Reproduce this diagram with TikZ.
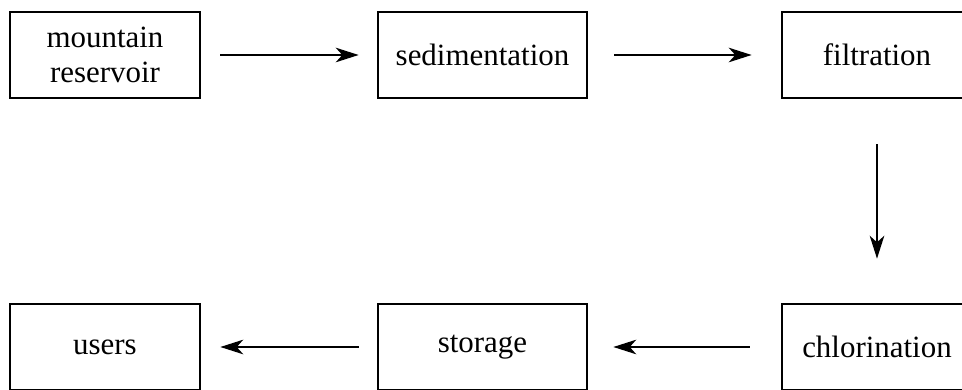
\documentclass[tikz,border=0pt]{standalone}
\usepackage{fontspec}
\setmainfont{Liberation Serif}
\usepackage{tikz}
\usetikzlibrary{
    calc,
    positioning,
    arrows.meta
}

\begin{document}
\begin{tikzpicture}[x=0.025cm, y=0.025cm]
                  % Fix the frame of the picture (boxes on the right and bottom run off it)
                  \useasboundingbox (0,0) rectangle (962,389);
                  \clip (0,0) rectangle (962,389);

                  % Define box and arrow styles:
                  \tikzset{
                        stage/.style={draw, rectangle, line width=1.8pt, inner sep=0pt,
                              minimum width=4.75cm, minimum height=2.15cm, align=center,
                              font=\fontsize{22}{25}\selectfont},
                        flow/.style={-{Stealth[length=0.57cm, width=0.36cm, inset=0.16cm]}, line width=2pt}
                  };

                  % Top row of treatment stages
                  \node[stage] (reservoir) at (105,334) {mountain\\reservoir};
                  \node[stage, minimum width=5.225cm] (sediment) at (482.5,334) {sedimentation};
                  \node[stage] (filter) at (877,334) {filtration};

                  % Bottom row, running back to the left
                  \node[stage] (users) at (105,42) {users};
                  \node[stage, minimum width=5.225cm] (storage) at (482.5,42) {storage};
                  \node[stage] (chlorine) at (877,42) {chlorination};

                  % Connectors between the stages
                  \draw[flow, shorten <=0.475cm, shorten >=0.45cm] (reservoir.east) -- (sediment.west);
                  \draw[flow, shorten <=0.65cm, shorten >=0.725cm] (sediment.east) -- (filter.west);
                  \draw[flow, shorten <=1.125cm, shorten >=1.1cm] (filter.south) -- (chlorine.north);
                  \draw[flow, shorten <=0.775cm, shorten >=0.625cm] (chlorine.west) -- (storage.east);
                  \draw[flow, shorten <=0.45cm, shorten >=0.475cm] (storage.west) -- (users.east);
\end{tikzpicture}
\end{document}
